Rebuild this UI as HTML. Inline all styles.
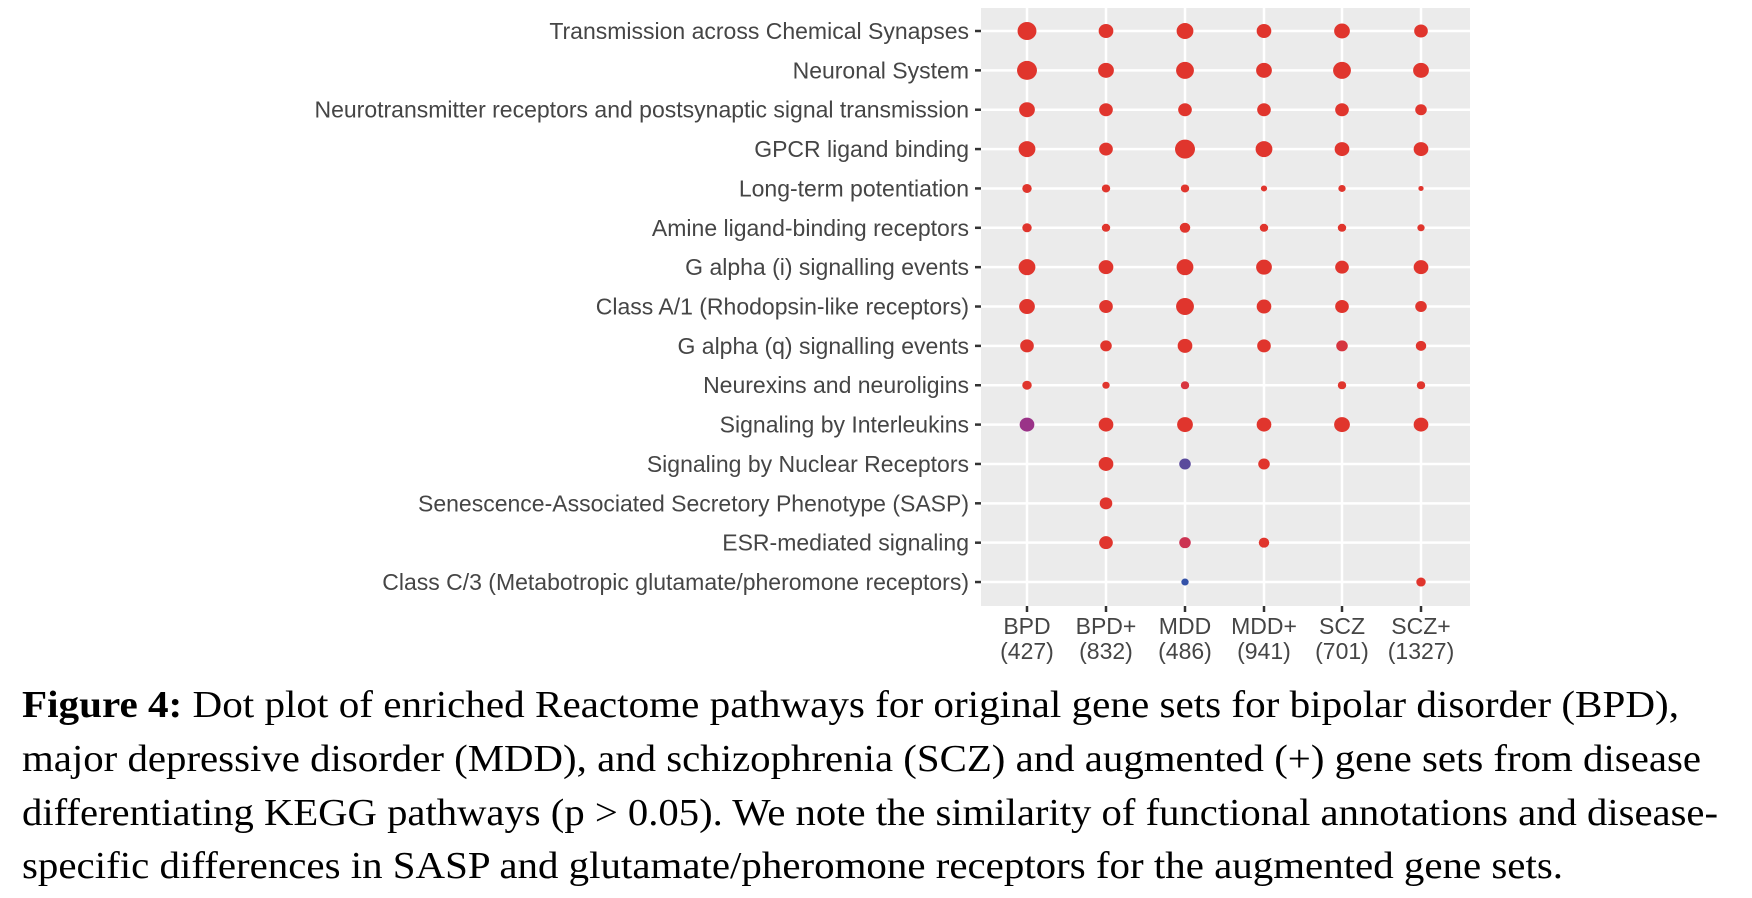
<!DOCTYPE html>
<html><head><meta charset="utf-8"><style>
html,body{margin:0;padding:0;background:#fff;width:1752px;height:898px;overflow:hidden}
svg{display:block}
</style></head><body>
<svg width="1752" height="898" xmlns="http://www.w3.org/2000/svg">
<rect x="981" y="8" width="489" height="598" fill="#ebebeb"/>
<g stroke="#fff" stroke-width="2.5">
<line x1="1027" y1="8" x2="1027" y2="606"/><line x1="1106" y1="8" x2="1106" y2="606"/><line x1="1185" y1="8" x2="1185" y2="606"/><line x1="1264" y1="8" x2="1264" y2="606"/><line x1="1342" y1="8" x2="1342" y2="606"/><line x1="1421" y1="8" x2="1421" y2="606"/>
</g>
<g stroke="#fff" stroke-width="2.5" id="hg"></g>
<g id="content" font-family="Liberation Sans, sans-serif" font-size="23" fill="#454545"></g>
<g font-family="Liberation Serif, serif" font-size="38" fill="#000">
<text x="22" y="717" textLength="1657" lengthAdjust="spacingAndGlyphs"><tspan font-weight="bold">Figure 4:</tspan> Dot plot of enriched Reactome pathways for original gene sets for bipolar disorder (BPD),</text>
<text x="22" y="771" textLength="1679" lengthAdjust="spacingAndGlyphs">major depressive disorder (MDD), and schizophrenia (SCZ) and augmented (+) gene sets from disease</text>
<text x="22" y="825" textLength="1696" lengthAdjust="spacingAndGlyphs">differentiating KEGG pathways (p &gt; 0.05). We note the similarity of functional annotations and disease-</text>
<text x="22" y="878" textLength="1541" lengthAdjust="spacingAndGlyphs">specific differences in SASP and glutamate/pheromone receptors for the augmented gene sets.</text>
</g>
</svg>
<script>
const NS="http://www.w3.org/2000/svg";
const svg=document.querySelector('svg');
const hg=document.getElementById('hg'),c=document.getElementById('content');
const cols=[1027,1106,1185,1264,1342,1421];
const labels=["Transmission across Chemical Synapses","Neuronal System","Neurotransmitter receptors and postsynaptic signal transmission","GPCR ligand binding","Long-term potentiation","Amine ligand-binding receptors","G alpha (i) signalling events","Class A/1 (Rhodopsin-like receptors)","G alpha (q) signalling events","Neurexins and neuroligins","Signaling by Interleukins","Signaling by Nuclear Receptors","Senescence-Associated Secretory Phenotype (SASP)","ESR-mediated signaling","Class C/3 (Metabotropic glutamate/pheromone receptors)"];
const R="#e0352d";
const d=[
[9,7,8,7,7.5,6.5],[9.5,7.5,8.5,7.5,8.5,7.5],[7.5,6.5,6.5,6.5,6.5,5.5],[8,6.5,9.5,8,7,7],
[4.5,4,4,3,3.5,2.5],[4.5,4,5,4,4,3.5],[8,7,8,7.5,6.5,7],[7.5,6.5,8.5,7,6.5,5.5],
[6.5,5.5,7,6.5,5.5,5],[4.5,3.5,4,0,4,4],[7,7,7.5,7,7.5,7],[0,7,5.5,5.5,0,0],
[0,6,0,0,0,0],[0,6.5,5.5,5,0,0],[0,0,3.5,0,0,4.5]];
const col={"10,0":"#9a3388","11,2":"#5a4a9c","13,2":"#cc3352","14,2":"#3452a8","8,4":"#d6353f","9,2":"#d8363f"};
function el(t,a,p){const e=document.createElementNS(NS,t);for(const k in a)e.setAttribute(k,a[k]);(p||svg).appendChild(e);return e;}
labels.forEach((l,i)=>{const y=31+i*39.36;
el('line',{x1:981,x2:1470,y1:y,y2:y},hg);
const t=el('text',{x:969,y:y+8,'text-anchor':'end'},c);t.textContent=l;
el('line',{x1:975,x2:981,y1:y,y2:y,stroke:'#333','stroke-width':2.5},c);
d[i].forEach((r,j)=>{if(r)el('ellipse',{cx:cols[j],cy:y,rx:r*1.05,ry:r,fill:col[i+","+j]||R},c);});
});
const xl=[["BPD","(427)"],["BPD+","(832)"],["MDD","(486)"],["MDD+","(941)"],["SCZ","(701)"],["SCZ+","(1327)"]];
xl.forEach((a,j)=>{const x=cols[j];
el('line',{x1:x,x2:x,y1:606,y2:612,stroke:'#333','stroke-width':2.5},c);
let t=el('text',{x:x,y:634,'text-anchor':'middle'},c);t.textContent=a[0];
t=el('text',{x:x,y:659,'text-anchor':'middle'},c);t.textContent=a[1];});
</script>
</body></html>
